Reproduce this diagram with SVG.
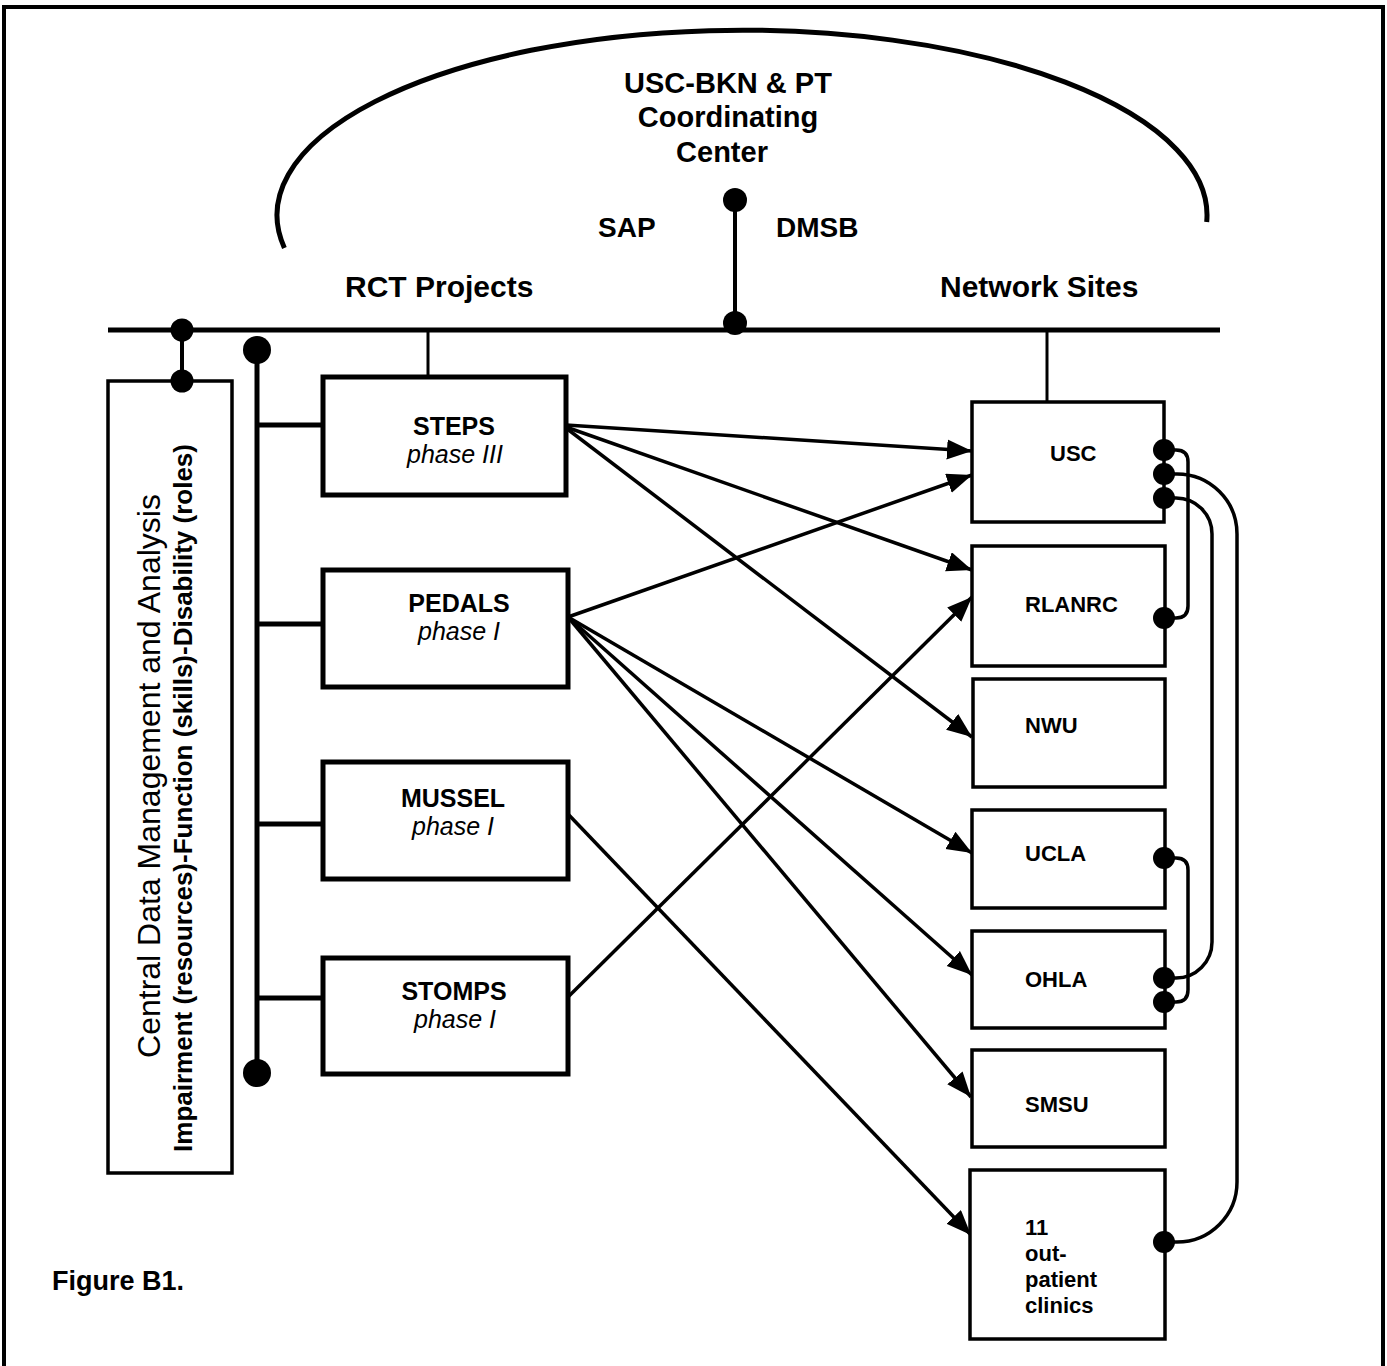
<svg xmlns="http://www.w3.org/2000/svg" width="1387" height="1366" viewBox="0 0 1387 1366">
<style>
.t{font-family:"Liberation Sans",Arial,sans-serif;fill:#000}
.b{font-weight:bold}
.i{font-style:italic}
.box{fill:#fff;stroke:#000;stroke-width:3.5}
.pbox{fill:#fff;stroke:#000;stroke-width:5}
.ln{stroke:#000;fill:none}
.dot{fill:#000}
</style>
<defs>
<marker id="ah" markerUnits="userSpaceOnUse" markerWidth="26" markerHeight="22" refX="25" refY="10" orient="auto">
<path d="M0,0 L25,10 L0,20 z" fill="#000"/>
</marker>
</defs>
<rect width="1387" height="1366" fill="#fff"/>
<g id="frame">
<path d="M4,1366 L4,7 L1383,7 L1383,1366" class="ln" stroke-width="4"/>
</g>
<g id="coordinating-center">
<path d="M284.4,248 A465,185 0 1 1 1206.7,222" class="ln" stroke-width="5"/>
<text class="t b" font-size="29" text-anchor="middle"><tspan x="728" y="93">USC-BKN &amp; PT</tspan><tspan x="728" y="127">Coordinating</tspan><tspan x="722" y="162">Center</tspan></text>
<text class="t b" x="598" y="237" font-size="28">SAP</text>
<text class="t b" x="776" y="237" font-size="28">DMSB</text>
</g>
<g id="headers">
<text class="t b" x="345" y="297" font-size="30">RCT Projects</text>
<text class="t b" x="940" y="297" font-size="30">Network Sites</text>
</g>
<g id="central-data">
<rect x="108" y="381" width="124" height="792" class="box"/>
<text class="t" font-size="32" text-anchor="middle" transform="translate(160,776) rotate(-90)">Central Data Management and Analysis</text>
<text class="t b" font-size="26" text-anchor="middle" transform="translate(192,798) rotate(-90)">Impairment (resources)-Function (skills)-Disability (roles)</text>
</g>
<g id="connectors">
<line x1="108" y1="330" x2="1220" y2="330" class="ln" stroke-width="5"/>
<line x1="735" y1="200" x2="735" y2="323" class="ln" stroke-width="4"/>
<line x1="182" y1="330" x2="182" y2="381" class="ln" stroke-width="4"/>
<line x1="257" y1="350" x2="257" y2="1073" class="ln" stroke-width="5"/>
<line x1="428" y1="330" x2="428" y2="377" class="ln" stroke-width="3"/>
<line x1="1047" y1="330" x2="1047" y2="401" class="ln" stroke-width="3"/>
<line x1="257" y1="425" x2="332" y2="425" class="ln" stroke-width="5"/>
<line x1="257" y1="624" x2="332" y2="624" class="ln" stroke-width="5"/>
<line x1="257" y1="824" x2="332" y2="824" class="ln" stroke-width="5"/>
<line x1="257" y1="998" x2="332" y2="998" class="ln" stroke-width="5"/>
<g stroke="#000" stroke-width="3.5" marker-end="url(#ah)">
<line x1="566" y1="425" x2="972" y2="451"/>
<line x1="566" y1="427" x2="972" y2="570"/>
<line x1="566" y1="428" x2="972" y2="737"/>
<line x1="568" y1="617" x2="972" y2="475"/>
<line x1="568" y1="617" x2="972" y2="853"/>
<line x1="568" y1="617" x2="972" y2="975"/>
<line x1="568" y1="617" x2="971" y2="1097"/>
<line x1="567" y1="813" x2="971" y2="1235"/>
<line x1="567" y1="998" x2="972" y2="597"/>
</g>
<path d="M1164,450 L1176,450 Q1188,450 1188,462 L1188,606 Q1188,618 1176,618 L1164,618" class="ln" stroke-width="3.5"/>
<path d="M1164,474 L1177,474 A60,60 0 0 1 1237,534 L1237,1182 A60,60 0 0 1 1177,1242 L1164,1242" class="ln" stroke-width="3.5"/>
<path d="M1164,498 L1176,498 A36,36 0 0 1 1212,534 L1212,942 A36,36 0 0 1 1176,978 L1164,978" class="ln" stroke-width="3.5"/>
<path d="M1164,858 L1176,858 Q1188,858 1188,870 L1188,990 Q1188,1002 1176,1002 L1164,1002" class="ln" stroke-width="3.5"/>
<circle cx="735" cy="200" r="12" class="dot"/>
<circle cx="735" cy="323" r="12" class="dot"/>
<circle cx="182" cy="330" r="11.5" class="dot"/>
<circle cx="182" cy="381" r="11.5" class="dot"/>
<circle cx="257" cy="350" r="14" class="dot"/>
<circle cx="257" cy="1073" r="14" class="dot"/>
</g>
<g id="steps">
<rect x="323" y="377" width="243" height="118" class="pbox"/>
<text class="t b" x="454" y="435" font-size="25" text-anchor="middle">STEPS</text>
<text class="t i" x="455" y="463" font-size="25" text-anchor="middle">phase III</text>
</g>
<g id="pedals">
<rect x="323" y="570" width="245" height="117" class="pbox"/>
<text class="t b" x="459" y="612" font-size="25" text-anchor="middle">PEDALS</text>
<text class="t i" x="459" y="640" font-size="25" text-anchor="middle">phase I</text>
</g>
<g id="mussel">
<rect x="323" y="762" width="245" height="117" class="pbox"/>
<text class="t b" x="453" y="807" font-size="25" text-anchor="middle">MUSSEL</text>
<text class="t i" x="453" y="835" font-size="25" text-anchor="middle">phase I</text>
</g>
<g id="stomps">
<rect x="323" y="958" width="245" height="116" class="pbox"/>
<text class="t b" x="454" y="1000" font-size="25" text-anchor="middle">STOMPS</text>
<text class="t i" x="455" y="1028" font-size="25" text-anchor="middle">phase I</text>
</g>
<g id="usc">
<rect x="972" y="402" width="192" height="120" class="box"/>
<text class="t b" x="1050" y="461" font-size="22">USC</text>
<circle cx="1164" cy="450" r="11" class="dot"/>
<circle cx="1164" cy="474" r="11" class="dot"/>
<circle cx="1164" cy="498" r="11" class="dot"/>
</g>
<g id="rlanrc">
<rect x="972" y="546" width="193" height="120" class="box"/>
<text class="t b" x="1025" y="612" font-size="22">RLANRC</text>
<circle cx="1164" cy="618" r="11" class="dot"/>
</g>
<g id="nwu">
<rect x="973" y="679" width="192" height="108" class="box"/>
<text class="t b" x="1025" y="733" font-size="22">NWU</text>
</g>
<g id="ucla">
<rect x="972" y="810" width="193" height="98" class="box"/>
<text class="t b" x="1025" y="861" font-size="22">UCLA</text>
<circle cx="1164" cy="858" r="11" class="dot"/>
</g>
<g id="ohla">
<rect x="972" y="931" width="193" height="97" class="box"/>
<text class="t b" x="1025" y="987" font-size="22">OHLA</text>
<circle cx="1164" cy="978" r="11" class="dot"/>
<circle cx="1164" cy="1002" r="11" class="dot"/>
</g>
<g id="smsu">
<rect x="972" y="1050" width="193" height="97" class="box"/>
<text class="t b" x="1025" y="1112" font-size="22">SMSU</text>
</g>
<g id="clinics">
<rect x="970" y="1170" width="195" height="169" class="box"/>
<text class="t b" font-size="22"><tspan x="1025" y="1235">11</tspan><tspan x="1025" y="1261">out-</tspan><tspan x="1025" y="1287">patient</tspan><tspan x="1025" y="1313">clinics</tspan></text>
<circle cx="1164" cy="1242" r="11" class="dot"/>
</g>
<g id="caption">
<text class="t b" x="52" y="1290" font-size="27">Figure B1.</text>
</g>
</svg>
